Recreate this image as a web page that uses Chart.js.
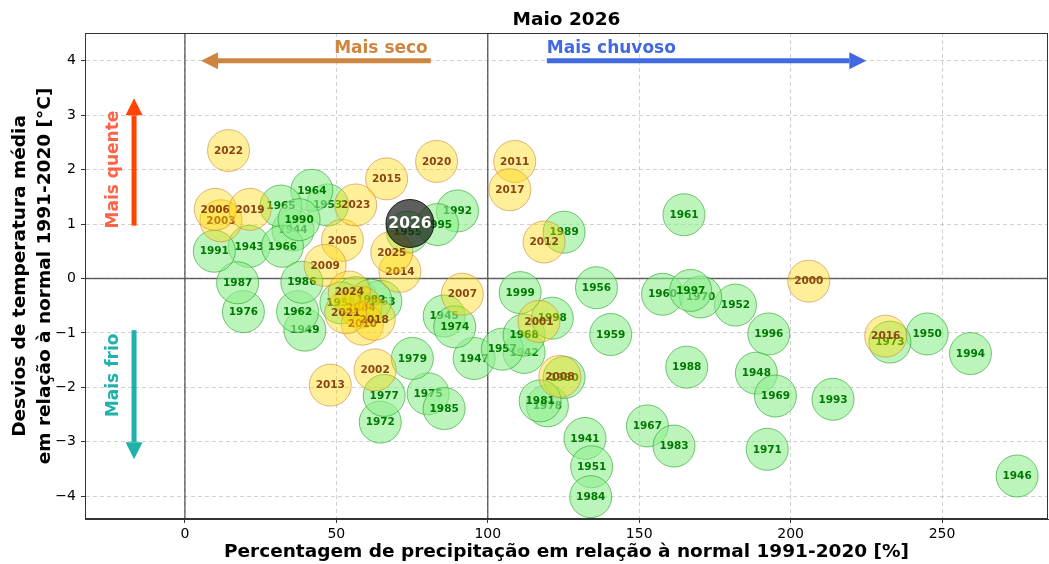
<!DOCTYPE html>
<html>
<head>
<meta charset="utf-8">
<script src="https://cdn.jsdelivr.net/npm/chart.js@4"></script>
<style>html,body{margin:0;padding:0;background:#fff;overflow:hidden}canvas{display:block}</style>
</head>
<body>
<canvas id="chart" width="1049" height="564"></canvas>
<script>
// years, precipitation (% of 1991-2020 normal) and temperature anomaly (°C)
const years = [1941,1942,1943,1944,1945,1946,1947,1948,1949,1950,
  1951,1952,1953,1954,1955,1956,1957,1958,1959,1960,
  1961,1962,1963,1964,1965,1966,1967,1968,1969,1970,
  1971,1972,1973,1974,1975,1976,1977,1978,1979,1980,
  1981,1982,1983,1984,1985,1986,1987,1988,1989,1990,
  1991,1992,1993,1994,1995,1996,1997,1998,1999,2000,
  2001,2002,2003,2004,2005,2006,2007,2008,2009,2010,
  2011,2012,2013,2014,2015,2016,2017,2018,2019,2020,
  2021,2022,2023,2024,2025,2026];
const precip = [132.1,112.0,21.2,35.7,85.6,274.8,95.5,188.7,39.6,245.1,
  134.3,181.8,47.1,56.4,73.5,135.9,104.8,51.5,140.6,157.7,
  164.8,37.2,64.7,41.9,31.7,32.2,152.7,112.0,195.0,170.3,
  192.3,64.5,232.8,89.1,80.3,19.3,65.8,119.7,75.1,125.2,
  117.3,61.4,161.5,134.0,85.6,38.6,17.4,165.7,125.2,37.7,
  9.7,90.0,214.0,259.4,83.4,192.8,167.0,121.3,110.7,206.0,
  116.9,62.8,11.9,58.1,52.0,10.0,91.6,123.8,46.3,58.6,
  108.9,118.6,48.0,71.0,66.6,231.4,107.3,62.5,21.5,83.1,
  53.1,14.4,56.4,54.3,68.3,74.3];
const tempAnom = [-2.94,-1.36,0.59,0.89,-0.69,-3.63,-1.47,-1.74,-0.95,-1.02,
  -3.46,-0.49,1.35,-0.35,0.85,-0.17,-1.30,-0.45,-1.03,-0.29,
  1.17,-0.61,-0.42,1.62,1.33,0.59,-2.71,-1.04,-2.16,-0.34,
  -3.14,-2.64,-1.17,-0.89,-2.12,-0.61,-2.15,-2.34,-1.47,-1.82,
  -2.25,-0.40,-3.08,-4.01,-2.39,-0.07,-0.08,-1.63,0.85,1.08,
  0.50,1.24,-2.22,-1.38,0.99,-1.02,-0.22,-0.73,-0.26,-0.05,
  -0.79,-1.68,1.06,-0.53,0.70,1.27,-0.29,-1.80,0.24,-0.84,
  2.15,0.67,-1.96,0.13,1.83,-1.06,1.63,-0.75,1.27,2.15,
  -0.63,2.35,1.35,-0.25,0.48,1.01];
const currentYear = 2026;
const recentFrom = 2000;

Chart.defaults.font.family = "'DejaVu Sans', sans-serif";
Chart.defaults.color = '#000';

function styleFor(yr) {
  if (yr === currentYear) return {fill: 'rgba(25,25,25,0.7)', edge: 'rgba(0,0,0,0.8)', text: '#fff', size: 15.5, r: 24};
  if (yr >= recentFrom) return {fill: 'rgba(255,215,0,0.4)', edge: 'rgba(205,133,63,0.6)', text: '#8B4513', size: 10.5, r: 21};
  return {fill: 'rgba(144,238,144,0.6)', edge: 'rgba(34,160,34,0.6)', text: '#007a00', size: 10.5, r: 21};
}

const datasets = years.map((yr, i) => {
  const s = styleFor(yr);
  return {
    label: String(yr),
    data: [{x: precip[i], y: tempAnom[i]}],
    backgroundColor: s.fill,
    borderColor: s.edge,
    borderWidth: 1,
    pointRadius: s.r,
    pointHoverRadius: s.r,
    order: years.length - i,   // oldest drawn first
    textColor: s.text,
    textSize: s.size
  };
});

const arrows = [
  {from: [81.2, 4.0], to: [5.3, 4.0], color: '#CD853F'},
  {from: [119.5, 4.0], to: [225, 4.0], color: '#4169E1'},
  {from: [-16.8, 0.97], to: [-16.8, 3.31], color: '#FF4500'},
  {from: [-16.8, -0.95], to: [-16.8, -3.32], color: '#20B2AA'}
];
const notes = [
  {text: 'Mais seco', x: 80.2, y: 4.22, align: 'right', rot: 0, color: '#CD853F'},
  {text: 'Mais chuvoso', x: 119.5, y: 4.22, align: 'left', rot: 0, color: '#4169E1'},
  {text: 'Mais quente', x: -23.4, y: 2.0, align: 'center', rot: -Math.PI / 2, color: '#FF6347'},
  {text: 'Mais frio', x: -23.4, y: -1.78, align: 'center', rot: -Math.PI / 2, color: '#20B2AA'}
];

const refLines = {
  id: 'refLines',
  beforeDatasetsDraw(chart) {
    const {ctx, chartArea: a, scales: {x, y}} = chart;
    ctx.save();
    ctx.strokeStyle = 'rgba(60,60,60,0.8)';
    ctx.lineWidth = 1.4;
    ctx.beginPath();
    [0, 100].forEach(v => { const px = x.getPixelForValue(v); ctx.moveTo(px, a.top); ctx.lineTo(px, a.bottom); });
    const py = y.getPixelForValue(0);
    ctx.moveTo(a.left, py); ctx.lineTo(a.right, py);
    ctx.stroke();
    ctx.restore();
  },
  afterDraw(chart) {
    const {ctx, chartArea: a} = chart;
    ctx.save();
    ctx.strokeStyle = '#333';
    ctx.lineWidth = 1;
    ctx.strokeRect(a.left + 0.5, a.top + 0.5, a.right - a.left - 1, a.bottom - a.top - 1);
    ctx.restore();
  }
};

const yearLabels = {
  id: 'yearLabels',
  afterDatasetDraw(chart, args) {
    const ds = chart.data.datasets[args.index];
    const pt = args.meta.data[0];
    if (!pt) return;
    const ctx = chart.ctx;
    ctx.save();
    ctx.beginPath();
    ctx.rect(chart.chartArea.left, chart.chartArea.top, chart.chartArea.width, chart.chartArea.height);
    ctx.clip();
    ctx.font = 'bold ' + ds.textSize + "px 'DejaVu Sans', sans-serif";
    ctx.fillStyle = ds.textColor;
    ctx.textAlign = 'center';
    ctx.textBaseline = 'middle';
    ctx.fillText(ds.label, pt.x, pt.y + 0.5);
    ctx.restore();
  }
};

function drawArrow(ctx, x1, y1, x2, y2, color) {
  const ang = Math.atan2(y2 - y1, x2 - x1);
  const len = Math.hypot(x2 - x1, y2 - y1);
  const headL = 17, headW = 17, shaft = 5;
  ctx.save();
  ctx.translate(x1, y1);
  ctx.rotate(ang);
  ctx.fillStyle = color;
  ctx.fillRect(0, -shaft / 2, len - headL, shaft);
  ctx.beginPath();
  ctx.moveTo(len, 0);
  ctx.lineTo(len - headL, -headW / 2);
  ctx.lineTo(len - headL, headW / 2);
  ctx.closePath();
  ctx.fill();
  ctx.restore();
}

const annotations = {
  id: 'annotations',
  afterDatasetsDraw(chart) {
    const {ctx, scales: {x, y}} = chart;
    arrows.forEach(a => drawArrow(ctx,
      x.getPixelForValue(a.from[0]), y.getPixelForValue(a.from[1]),
      x.getPixelForValue(a.to[0]), y.getPixelForValue(a.to[1]), a.color));
    notes.forEach(n => {
      ctx.save();
      ctx.translate(x.getPixelForValue(n.x), y.getPixelForValue(n.y));
      ctx.rotate(n.rot);
      ctx.font = "bold 17px 'DejaVu Sans', sans-serif";
      ctx.fillStyle = n.color;
      ctx.textAlign = n.align;
      ctx.textBaseline = 'middle';
      ctx.fillText(n.text, 0, 0);
      ctx.restore();
    });
  }
};

const minus = v => String(v).replace('-', '\u2212');

new Chart(document.getElementById('chart'), {
  type: 'scatter',
  data: {datasets},
  options: {
    responsive: false,
    animation: false,
    events: [],
    layout: {padding: {right: 1}, autoPadding: false},
    plugins: {
      legend: {display: false},
      tooltip: {enabled: false},
      title: {
        display: true,
        fullSize: false,
        text: 'Maio 2026',
        color: '#000',
        font: {size: 18.5, weight: 'bold'},
        padding: {top: 9, bottom: 1.8}
      }
    },
    scales: {
      x: {
        type: 'linear',
        min: -33, max: 285,
        afterFit(s) { s.height = 45; },
        ticks: {stepSize: 50, includeBounds: false, padding: 3, font: {size: 14}, color: '#000', callback: minus},
        grid: {color: 'rgba(170,170,170,0.55)', tickColor: '#333', tickLength: 4},
        border: {display: true, color: '#333', dash: [4, 3]},
        title: {
          display: true,
          text: 'Percentagem de precipitação em relação à normal 1991-2020 [%]',
          font: {size: 18.5, weight: 'bold'},
          color: '#000',
          padding: {top: 0, bottom: 1}
        }
      },
      y: {
        type: 'linear',
        min: -4.42, max: 4.51,
        afterFit(s) { s.width = 85; },
        ticks: {stepSize: 1, includeBounds: false, padding: 5, font: {size: 14}, color: '#000', callback: minus},
        grid: {color: 'rgba(170,170,170,0.55)', tickColor: '#333', tickLength: 4},
        border: {display: true, color: '#333', dash: [4, 3]},
        title: {
          display: true,
          text: ['Desvios de temperatura média', 'em relação à normal 1991-2020 [°C]'],
          font: {size: 18.5, weight: 'bold', lineHeight: 1.35},
          color: '#000',
          padding: {top: 7.5, bottom: 0}
        }
      }
    }
  },
  plugins: [refLines, yearLabels, annotations]
});
</script>
</body>
</html>
